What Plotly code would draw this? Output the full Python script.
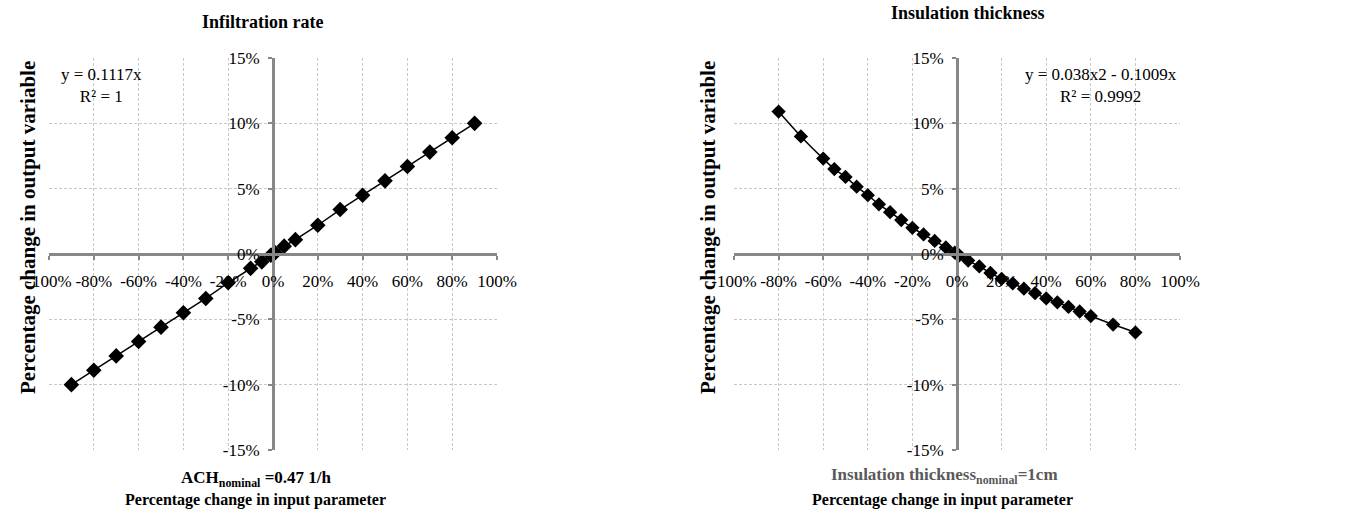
import plotly.graph_objects as go

# ---- data ----
infil_x = [-90, -80, -70, -60, -50, -40, -30, -20, -10, -5, -1, 0, 1, 5, 10, 20, 30, 40, 50, 60, 70, 80, 90]
infil_y = [-10.0, -8.9, -7.8, -6.7, -5.6, -4.5, -3.4, -2.2, -1.1, -0.6, -0.1, 0.0, 0.1, 0.6, 1.1,
           2.2, 3.4, 4.5, 5.6, 6.7, 7.8, 8.9, 10.0]

insul_x = [-80, -70, -60, -55, -50, -45, -40, -35, -30, -25, -20, -15, -10, -5, -1, 0, 1,
           5, 10, 15, 20, 25, 30, 35, 40, 45, 50, 55, 60, 70, 80]
insul_y = [10.9, 9.0, 7.3, 6.5, 5.9, 5.15, 4.5, 3.8, 3.2, 2.6, 2.0, 1.5, 1.0, 0.5, 0.1, 0.0, -0.1,
           -0.5, -0.95, -1.45, -1.9, -2.25, -2.65, -3.0, -3.4, -3.7, -4.05, -4.4, -4.75, -5.4, -6.0]

x_ticks = [-100, -80, -60, -40, -20, 0, 20, 40, 60, 80, 100]
y_ticks = [-15, -10, -5, 0, 5, 10, 15]

titles = ["Infiltration rate", "Insulation thickness"]
eqs = [("y = 0.1117x", "R² = 1"), ("y = 0.038x2 - 0.1009x", "R² = 0.9992")]

FONT = "Liberation Serif"
W, H = 1355, 517

def px(v):
    return v / W

def py(v):
    return 1 - v / H

dom_y = [py(450), py(58)]
dom_x1 = [px(49), px(497)]
dom_x2 = [px(734), px(1180)]
mid_y = (dom_y[0] + dom_y[1]) / 2

fig = go.Figure()
fig.add_trace(go.Scatter(x=infil_x, y=infil_y, mode="lines+markers",
                         line=dict(color="black", width=1.5),
                         marker=dict(symbol="diamond", size=12, color="black"),
                         xaxis="x", yaxis="y", showlegend=False))
fig.add_trace(go.Scatter(x=insul_x, y=insul_y, mode="lines+markers",
                         line=dict(color="black", width=1.5, shape="spline"),
                         marker=dict(symbol="diamond", size=11, color="black"),
                         xaxis="x2", yaxis="y2", showlegend=False))

grid = dict(showgrid=True, gridcolor="#c8c8c8", gridwidth=1, griddash="3px,2px",
            zeroline=False, showline=True, linecolor="#878787", linewidth=3,
            ticks="outside", ticklen=4, tickwidth=2, tickcolor="#878787",
            automargin=False,
            tickfont=dict(family=FONT, size=17, color="black"))

xcommon = dict(grid, range=[-100, 100], tickvals=x_ticks, ticklabelstandoff=7,
               ticktext=[f"{v}%" for v in x_ticks], anchor="free", position=mid_y)
ycommon = dict(grid, range=[-15, 15], tickvals=y_ticks, ticklabelstandoff=5,
               ticktext=[f"{v}%" for v in y_ticks], anchor="free", domain=dom_y)

fig.update_layout(
    width=W, height=H,
    margin=dict(l=0, r=0, t=0, b=0, autoexpand=False),
    plot_bgcolor="white", paper_bgcolor="white",
    font=dict(family=FONT, color="black"),
    xaxis=dict(xcommon, domain=dom_x1),
    yaxis=dict(ycommon, position=(dom_x1[0] + dom_x1[1]) / 2),
    xaxis2=dict(xcommon, domain=dom_x2),
    yaxis2=dict(ycommon, position=(dom_x2[0] + dom_x2[1]) / 2),
)

ann = []
# chart titles
ann.append(dict(x=px(262), y=py(22), text=f"<b>{titles[0]}</b>", font=dict(size=18)))
ann.append(dict(x=px(968), y=py(13), text=f"<b>{titles[1]}</b>", font=dict(size=18)))
# y titles
for xc in (28, 708):
    ann.append(dict(x=px(xc), y=py(228), text="<b>Percentage change in output variable</b>",
                    textangle=-90, font=dict(size=21)))
# x titles
ann.append(dict(x=px(256), y=py(479), text="<b>ACH<sub>nominal</sub> =0.47 1/h</b>",
                font=dict(size=17)))
ann.append(dict(x=px(944), y=py(476), text="<b>Insulation thickness<sub>nominal</sub>=1cm</b>",
                font=dict(size=17, color="#595959")))
for xc in (255, 942):
    ann.append(dict(x=px(xc), y=py(500), text="<b>Percentage change in input parameter</b>",
                    font=dict(size=16)))
# trendline equations
ann.append(dict(x=px(102), y=py(86), text=f"{eqs[0][0]}<br>{eqs[0][1]}",
                font=dict(size=17)))
ann.append(dict(x=px(1101), y=py(86), text=f"{eqs[1][0]}<br>{eqs[1][1]}",
                font=dict(size=17)))

for a in ann:
    a.update(xref="paper", yref="paper", showarrow=False, xanchor="center", yanchor="middle")
    a["font"] = dict(a["font"], family=FONT, color=a["font"].get("color", "black"))
fig.update_layout(annotations=ann)

fig.write_html("out.html")
